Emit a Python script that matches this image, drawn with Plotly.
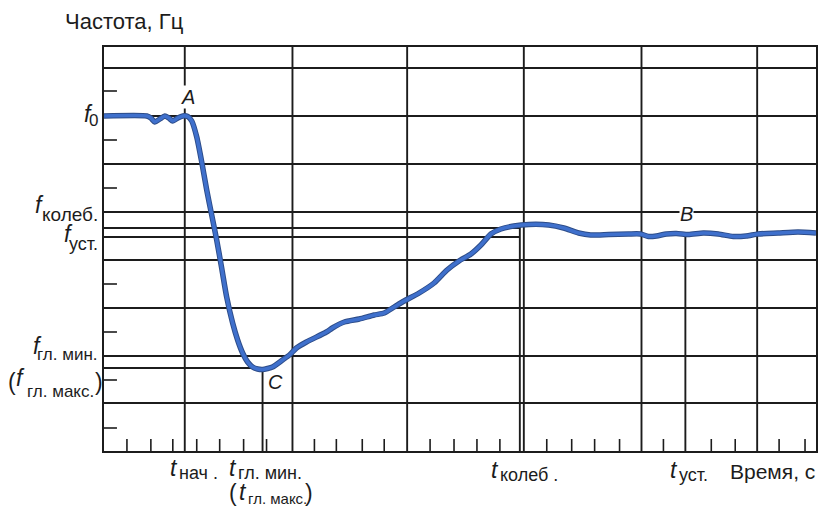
import plotly.graph_objects as go

# ---------------- data (arbitrary units: time 0..71.4, frequency 0..40.4) -------------
time_pts = [0, 4.3, 4.7, 5.1, 5.6, 6.1, 6.5, 6.9, 7.4, 7.9, 8.4, 8.8, 9.3, 9.8, 10.3, 10.8,
            11.3, 11.8, 12.3, 12.9, 13.4, 13.9, 14.4, 14.9, 15.4, 15.9, 16.4, 16.9, 17.9,
            18.6, 19.3, 20.3, 22.3, 22.9, 24.1, 25.6, 27.1, 28.1, 29.1, 30.1, 31.6, 33.1,
            34.4, 35.6, 36.8, 37.8, 38.8, 39.8, 41.1, 42.6, 44.6, 46.1, 47.6, 48.8, 50.6,
            52.6, 53.8, 54.6, 55.4, 56.4, 57.4, 58.6, 60.1, 61.6, 63.1, 64.4, 65.6, 67.6,
            69.6, 71.4]
freq_pts = [33.5, 33.5, 33.3, 32.9, 33.2, 33.5, 33.3, 33.0, 33.3, 33.5, 33.45, 33.0, 31.4,
            28.9, 26.1, 23.6, 21.1, 18.3, 15.4, 12.8, 11.1, 9.8, 8.9, 8.4, 8.2, 8.15, 8.25,
            8.4, 9.1, 9.6, 10.3, 10.9, 11.9, 12.3, 12.9, 13.2, 13.6, 13.8, 14.4, 15.0, 15.8,
            16.8, 18.1, 19.0, 19.7, 20.6, 21.7, 22.2, 22.5, 22.65, 22.6, 22.3, 21.8, 21.6,
            21.65, 21.7, 21.7, 21.45, 21.5, 21.7, 21.75, 21.65, 21.8, 21.7, 21.45, 21.5,
            21.7, 21.8, 21.9, 21.8]

grid_t = [8.1, 18.9, 30.4, 42.1, 53.9, 65.5]
grid_f = [38.3, 33.5, 28.7, 23.9, 19.1, 14.3, 9.5, 4.8]
minor_t = [2.3, 4.7, 6.9, 9.3, 11.6, 14.0, 16.3, 21.1, 23.3, 25.9, 28.1, 32.7, 35.1, 37.4,
           39.7, 44.4, 46.9, 49.2, 51.7, 56.1, 60.9, 63.3, 67.7, 70.3]
minor_f = [36.0, 31.1, 26.3, 16.7, 11.9, 7.1, 2.3]

T_MAX, F_MAX = 71.4, 40.4
f0, f_kol, f_ust, f_glmin = 33.5, 22.3, 21.4, 8.3
t_nach, t_glmin, t_kol, t_ust = 8.1, 15.9, 41.7, 58.3
curve_at_t_glmin, curve_at_t_kol, curve_at_t_ust = 8.15, 22.5, 21.65
f_glmin_end = 15.9

y_title = "Частота, Гц"
x_title = "Время, с"

# ---------------- figure ----------------
INK = "#1c1c1c"
FONT = "Liberation Sans, Arial, sans-serif"

fig = go.Figure()
fig.add_trace(go.Scatter(x=time_pts, y=freq_pts, mode="lines",
                         line=dict(color="#2d4c88", width=5.5, shape="spline", smoothing=0.6),
                         hoverinfo="skip", showlegend=False))
fig.add_trace(go.Scatter(x=time_pts, y=freq_pts, mode="lines",
                         line=dict(color="#3f70cc", width=3.6, shape="spline", smoothing=0.6),
                         hoverinfo="skip", showlegend=False))

shapes = []
def seg(x0, y0, x1, y1, w=1.9):
    shapes.append(dict(type="line", xref="x", yref="y", x0=x0, y0=y0, x1=x1, y1=y1,
                       line=dict(color=INK, width=w), layer="below"))

for t in grid_t:
    seg(t, 0, t, F_MAX)
for f in grid_f:
    seg(0, f, T_MAX, f)
for t in minor_t:
    seg(t, 0, t, 1.2, 1.6)
for f in minor_f:
    seg(0, f, 1.3, f, 1.6)
# characteristic lines
seg(0, f_kol, t_kol, f_kol)
seg(0, f_ust, t_kol, f_ust)
seg(0, f_glmin, f_glmin_end, f_glmin)
seg(t_glmin, 0, t_glmin, curve_at_t_glmin)
seg(t_kol, 0, t_kol, curve_at_t_kol)
seg(t_ust, 0, t_ust, curve_at_t_ust)

ann = []
def lab(x, y, text, size, xs=0, ys=0, xa="center", ya="middle", bg=None):
    d = dict(x=x, y=y, xref="x", yref="y", text=text, showarrow=False,
             font=dict(family=FONT, size=size, color=INK),
             xanchor=xa, yanchor=ya, xshift=xs, yshift=ys, borderpad=0)
    if bg:
        d.update(bgcolor=bg)
    ann.append(d)

BIG, SUB, BSUB = 23, 19, 18
# axis titles
lab(0, F_MAX, y_title, 22, xs=-40, ys=26, xa="left")
lab(T_MAX, 0, x_title, 21, xs=0, ys=-20, xa="right")
# left labels
lab(0, f0, "<i>f</i>", BIG, xs=-10, ys=2, xa="right")
lab(0, f0, "0", 17, xs=-5, ys=-4, xa="right")
lab(0, f_kol, "<i>f</i>", BIG, xs=-59, ys=23, xa="right")
lab(0, f_kol, "колеб.", SUB, xs=-5, ys=14, xa="right")
lab(0, f_ust, "<i>f</i>", BIG, xs=-30, ys=3, xa="right")
lab(0, f_ust, "уст.", 18, xs=-5, ys=-7, xa="right")
lab(0, f_glmin, "<i>f</i>", BIG, xs=-61, ys=22, xa="right")
lab(0, f_glmin, "гл. мин.", 17, xs=-5, ys=14, xa="right")
lab(0, f_glmin, "(", BIG, xs=-92, ys=-14)
lab(0, f_glmin, "<i>f</i>", BIG, xs=-78, ys=-10, xa="right")
lab(0, f_glmin, "гл. макс.", 17, xs=-9, ys=-23, xa="right")
lab(0, f_glmin, ")", BIG, xs=-5, ys=-14)
# bottom labels
lab(t_nach, 0, "<i>t</i>", BIG, xs=-6, ys=-17, xa="right")
lab(t_nach, 0, "нач .", BSUB, xs=-7, ys=-22, xa="left")
lab(t_glmin, 0, "<i>t</i>", BIG, xs=-25, ys=-17, xa="right")
lab(t_glmin, 0, "гл. мин.", BSUB, xs=-26, ys=-22, xa="left")
lab(t_glmin, 0, "(", BIG, xs=-30, ys=-42)
lab(t_glmin, 0, "<i>t</i>", BIG, xs=-15, ys=-41, xa="right")
lab(t_glmin, 0, "гл. макс.", 15, xs=-16, ys=-47, xa="left")
lab(t_glmin, 0, ")", BIG, xs=46, ys=-42)
lab(t_kol, 0, "<i>t</i>", BIG, xs=-20, ys=-19, xa="right")
lab(t_kol, 0, "колеб .", BSUB, xs=-21, ys=-24, xa="left")
lab(t_ust, 0, "<i>t</i>", BIG, xs=-6, ys=-19, xa="right")
lab(t_ust, 0, "уст.", BSUB, xs=-7, ys=-24, xa="left")
# point labels
lab(t_nach, f0, "<i>A</i>", 20, xs=3, ys=19, bg="white")
lab(t_ust, f_ust, "<i>B</i>", 20, xs=1, ys=23, bg="white")
lab(t_glmin, f_glmin, "<i>C</i>", 20, xs=13, ys=-14)

axis_common = dict(showgrid=False, zeroline=False, showticklabels=False, ticks="",
                   showline=True, linecolor=INK, linewidth=2, mirror=True, fixedrange=True)
fig.update_layout(
    width=820, height=511,
    margin=dict(l=104, r=2, t=47, b=60),
    paper_bgcolor="white", plot_bgcolor="white",
    xaxis=dict(range=[0, T_MAX], **axis_common),
    yaxis=dict(range=[0, F_MAX], **axis_common),
    shapes=shapes, annotations=ann, showlegend=False,
)
fig.write_html("out.html", config={"displayModeBar": False},
               post_script="document.body.style.margin='0';document.body.style.overflow='hidden';")
